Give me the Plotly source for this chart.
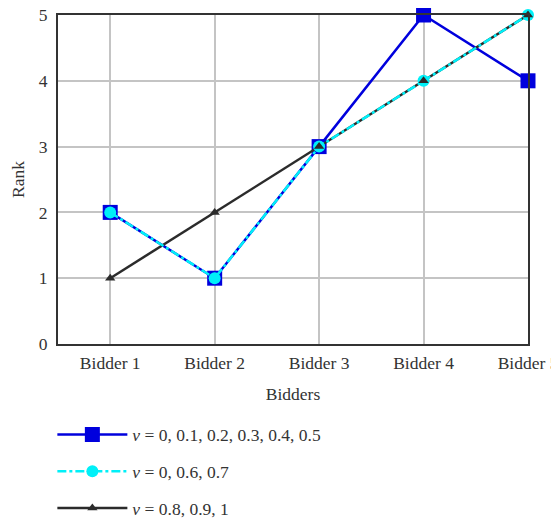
import plotly.graph_objects as go

bidders = ["Bidder 1", "Bidder 2", "Bidder 3", "Bidder 4", "Bidder 5"]
rank_a = [2, 1, 3, 5, 4]
rank_b = [2, 1, 3, 4, 5]
rank_c = [1, 2, 3, 4, 5]
label_a = "<i>ν</i> = 0, 0.1, 0.2, 0.3, 0.4, 0.5"
label_b = "<i>ν</i> = 0, 0.6, 0.7"
label_c = "<i>ν</i> = 0.8, 0.9, 1"
y_ticks = [0, 1, 2, 3, 4, 5]

BLUE = "#0000dd"
CYAN = "#00f0f8"
DARK = "#2b2b2b"
FONT = "Liberation Serif"

fig = go.Figure()
fig.add_trace(go.Scatter(x=bidders, y=rank_a, mode="lines+markers", name=label_a,
                         legendgroup="a", legendrank=1, cliponaxis=False,
                         line=dict(color=BLUE, width=2.5),
                         marker=dict(symbol="square", size=15, color=BLUE)))
fig.add_trace(go.Scatter(x=bidders, y=rank_c, mode="lines", showlegend=False,
                         cliponaxis=False,
                         line=dict(color=DARK, width=2.5)))
fig.add_trace(go.Scatter(x=bidders, y=rank_b, mode="lines+markers", name=label_b,
                         legendgroup="b", legendrank=2, cliponaxis=False,
                         line=dict(color=CYAN, width=2.5, dash="dashdot"),
                         marker=dict(symbol="circle", size=12, color=CYAN)))
fig.add_trace(go.Scatter(x=bidders, y=rank_c, mode="markers", showlegend=False,
                         cliponaxis=False,
                         marker=dict(symbol="triangle-up", size=9, color=DARK)))
# legend proxy for the dark series
fig.add_trace(go.Scatter(x=[None], y=[None], mode="lines+markers", name=label_c,
                         legendgroup="c", legendrank=3,
                         line=dict(color=DARK, width=2.5),
                         marker=dict(symbol="triangle-up", size=9, color=DARK)))

fig.update_layout(
    width=551, height=512,
    margin=dict(l=50, r=31, t=7, b=176, autoexpand=False),
    plot_bgcolor="white", paper_bgcolor="white",
    font=dict(family=FONT, size=17, color="#333"),
    showlegend=True,
    legend=dict(x=-0.012, xanchor="left", y=-0.221, yanchor="top",
                orientation="v", traceorder="grouped", tracegroupgap=11,
                font=dict(family=FONT, size=17.5, color="#333"),
                itemwidth=70, bgcolor="rgba(0,0,0,0)"),
)
fig.update_xaxes(type="category", range=[-0.5, 4], automargin=False,
                 showgrid=True, gridcolor="#c4c4c4", gridwidth=1.5,
                 showline=True, linecolor="#333", linewidth=1.8, mirror=True,
                 ticks="", ticklabelstandoff=2, ticklabeloverflow="allow",
                 title=dict(text="Bidders", font=dict(family=FONT, size=17.5), standoff=16),
                 tickfont=dict(family=FONT, size=17.5))
fig.update_yaxes(range=[0, 5], tickvals=y_ticks, automargin=False,
                 showgrid=True, gridcolor="#c4c4c4", gridwidth=1.5,
                 showline=True, linecolor="#333", linewidth=1.8, mirror=True,
                 zeroline=False, ticks="", ticklabelstandoff=5, ticklabeloverflow="allow",
                 title=dict(text="Rank", font=dict(family=FONT, size=17.5), standoff=14),
                 tickfont=dict(family=FONT, size=17.5))

fig.write_html("out.html")
